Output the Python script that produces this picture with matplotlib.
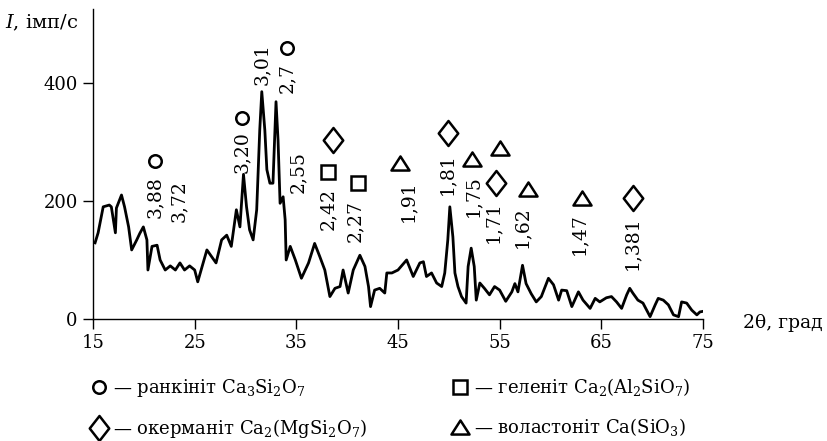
import matplotlib
matplotlib.use("Agg")
import matplotlib.pyplot as plt
from matplotlib.lines import Line2D
from matplotlib.path import Path

plt.rcParams['font.family'] = ['DejaVu Serif']
plt.rcParams['mathtext.fontset'] = 'dejavuserif'

# XRD pattern: 2theta (deg), intensity (imp/s)
two_theta = [15.2, 15.5, 16.0, 16.6, 16.8, 17.2, 17.3, 17.8, 18.1, 18.5, 18.8, 19.3, 19.6, 19.95,
             20.3, 20.4, 20.8, 21.3, 21.6, 22.1, 22.6, 23.1, 23.55, 24.0, 24.5, 25.0, 25.3, 25.5,
             26.2, 26.65, 27.1, 27.65, 28.15, 28.6, 29.1, 29.45, 29.8, 30.1, 30.4, 30.75, 31.1,
             31.4, 31.6, 31.9, 32.1, 32.4, 32.7, 33.0, 33.2, 33.4, 33.7, 33.9, 34.0, 34.4, 34.9,
             35.5, 36.2, 36.8, 37.3, 37.8, 38.3, 38.8, 39.3, 39.6, 40.1, 40.6, 41.25, 41.75, 42.1,
             42.3, 42.7, 43.2, 43.7, 43.9, 44.4, 45.0, 45.85, 46.5, 47.15, 47.5, 47.8, 48.3, 48.8,
             49.3, 49.6, 49.9, 50.1, 50.4, 50.6, 50.9, 51.25, 51.7, 51.9, 52.2, 52.5, 52.7, 53.05,
             53.5, 54.0, 54.5, 55.0, 55.6, 56.2, 56.5, 56.8, 57.25, 57.6, 58.1, 58.6, 59.1, 59.8,
             60.3, 60.8, 61.1, 61.6, 62.1, 62.75, 63.2, 63.9, 64.4, 64.85, 65.5, 66.0, 66.5, 67.0,
             67.5, 67.8, 68.1, 68.6, 69.1, 69.8, 70.3, 70.6, 71.1, 71.6, 72.1, 72.6, 72.9, 73.4,
             73.9, 74.4, 74.7, 75.0]
intensity = [129, 146, 190, 193, 190, 146, 188, 210, 190, 156, 117, 134, 145, 156,
             134, 83, 123, 125, 100, 83, 90, 83, 95, 83, 90, 83, 63, 75,
             117, 106, 95, 134, 142, 123, 185, 156, 245, 190, 151, 134, 185,
             320, 385, 320, 253, 230, 230, 368, 303, 196, 207, 168, 100, 123, 100,
             69, 95, 128, 106, 83, 38, 52, 55, 83, 44, 83, 108, 89, 55,
             21, 49, 52, 44, 78, 78, 83, 100, 72, 95, 97, 72, 78, 61,
             55, 78, 134, 190, 139, 78, 55, 38, 27, 89, 120, 89, 32, 61,
             52, 41, 55, 49, 30, 46, 60, 46, 91, 60, 43, 29, 38, 69,
             58, 32, 49, 48, 21, 46, 32, 18, 35, 29, 36, 38, 29, 18,
             41, 52, 44, 32, 27, 4, 24, 35, 32, 24, 7, 4, 29, 27,
             15, 7, 12, 13]

# d-spacing labels: text, x, y of the lower end
d_labels = ['3,88', '3,72', '3,20', '3,01', '2,7', '2,55', '2,42', '2,27',
            '1,91', '1,81', '1,75', '1,71', '1,62', '1,47', '1,381']
d_x = [21.1, 23.45, 29.65, 31.6, 34.1, 35.2, 38.1, 40.8, 46.0, 49.8, 52.4, 54.4, 57.2, 62.8, 68.0]
d_y = [171, 164, 247, 397, 383, 214, 151, 130, 164, 210, 173, 129, 120, 108, 83]

# phase marks
rank_x = [21.1, 29.65, 34.1]
rank_y = [268, 341, 459]
gehl_x = [38.1, 41.05]
gehl_y = [249, 231]
aker_x = [38.6, 49.9, 54.6, 68.1]
aker_y = [303, 315, 231, 205]
woll_x = [45.2, 52.3, 55.0, 57.8, 63.1]
woll_y = [264, 271, 290, 220, 205]

phase_names = [r'— ранкініт Ca$_3$Si$_2$O$_7$', r'— окерманіт Ca$_2$(MgSi$_2$O$_7$)',
               r'— геленіт Ca$_2$(Al$_2$SiO$_7$)', r'— воластоніт Ca(SiO$_3$)']

diamond = Path([(0, 1), (0.78, 0), (0, -1), (-0.78, 0), (0, 1)],
               [Path.MOVETO, Path.LINETO, Path.LINETO, Path.LINETO, Path.CLOSEPOLY])
triangle = Path([(0, 0.78), (1, -0.78), (-1, -0.78), (0, 0.78)],
                [Path.MOVETO, Path.LINETO, Path.LINETO, Path.CLOSEPOLY])

mk = dict(ls='none', mfc='none', mec='black', mew=1.8, clip_on=False)
styles = [dict(marker='o', ms=9), dict(marker=diamond, ms=18),
          dict(marker='s', ms=9.5), dict(marker=triangle, ms=13)]

fig = plt.figure(figsize=(8.27, 4.41), dpi=100)
ax = fig.add_axes([0.1125, 0.2766, 0.7375, 0.703])

ax.plot(two_theta, intensity, color='black', lw=2.0)

ax.plot(rank_x, rank_y, **styles[0], **mk)
ax.plot(aker_x, aker_y, **styles[1], **mk)
ax.plot(gehl_x, gehl_y, **styles[2], **mk)
ax.plot(woll_x, woll_y, **styles[3], **mk)

for t, x, y in zip(d_labels, d_x, d_y):
    ax.text(x, y, t, rotation=90, ha='center', va='bottom', fontsize=13.5)

ax.set_xlim(15, 75)
ax.set_ylim(0, 525)
ax.set_xticks([15, 25, 35, 45, 55, 65, 75])
ax.set_yticks([0, 200, 400])
for s in ['top', 'right']:
    ax.spines[s].set_visible(False)
for s in ['left', 'bottom']:
    ax.spines[s].set_linewidth(1.0)
ax.tick_params(direction='out', length=7, width=1, labelsize=13, pad=4)

fig.text(0.006, 0.948, r'$I$, імп/с', fontsize=14, va='center')
fig.text(0.899, 0.268, '2θ, град', fontsize=13.5, va='center')

handles = [Line2D([], [], **st, ls='none', mfc='none', mec='black', mew=1.8) for st in styles]
fig.legend(handles, phase_names, ncol=2, loc='center left', bbox_to_anchor=(0.089, 0.075),
           frameon=False, fontsize=13, handlelength=1.0, handletextpad=0.3,
           columnspacing=4.6, labelspacing=1.0)

fig.savefig('out.png', dpi=100)
